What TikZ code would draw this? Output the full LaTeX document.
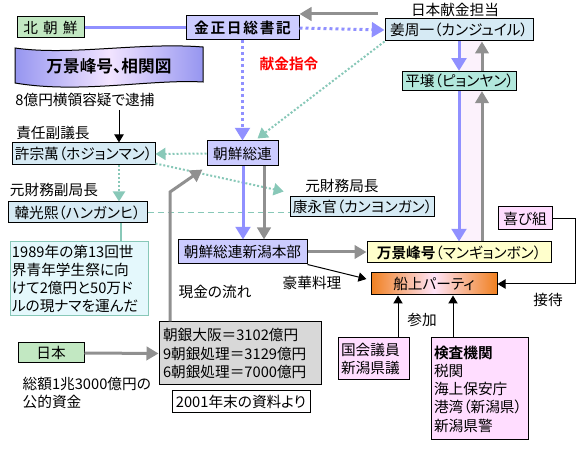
\documentclass[tikz,border=0pt]{standalone}
\usepackage{fontspec}
\setmainfont{Noto Sans CJK JP}[CharacterWidth=AlternateProportional, BoldFont={Noto Sans CJK JP Bold}]
\usetikzlibrary{arrows.meta,calc}

\definecolor{midori}{RGB}{194,232,194}
\definecolor{fuji}{RGB}{204,204,255}
\definecolor{mizuiro}{RGB}{214,234,244}
\definecolor{seiji}{RGB}{178,232,220}
\definecolor{kiiro}{RGB}{255,255,204}
\definecolor{momo}{RGB}{255,221,255}
\definecolor{nezumi}{RGB}{216,216,216}
\definecolor{sorairo}{RGB}{228,248,252}
\definecolor{aosen}{RGB}{144,144,255}
\definecolor{haisen}{RGB}{144,144,144}
\definecolor{aomidori}{RGB}{136,200,184}
\definecolor{daidai}{RGB}{240,128,32}
\definecolor{usudaidai}{RGB}{255,228,248}
\definecolor{usumomo}{RGB}{252,242,252}
\definecolor{hatairo}{RGB}{150,150,240}
\definecolor{hatanaka}{RGB}{242,228,255}

\begin{document}
\begin{tikzpicture}[x=0.75pt,y=-0.75pt,font=\fontsize{11}{13.7}\selectfont]
	% Stiler for bokser og piler
	\tikzstyle{boks}      = [rectangle, draw, line width=0.75pt, inner sep=2pt]
	\tikzstyle{person}    = [boks, fill=mizuiro]
	\tikzstyle{soshiki}   = [boks, fill=fuji]
	\tikzstyle{kuni}      = [boks, fill=midori]
	\tikzstyle{ao}        = [aosen, line width=2.25pt, -{Triangle[width=11pt,length=9.5pt]}]
	\tikzstyle{hai}       = [haisen, line width=2.25pt, -{Triangle[width=10pt,length=9pt]}]
	\tikzstyle{aoten}     = [aosen, line width=2.25pt, dash pattern=on 2.25pt off 2.25pt, -{Triangle[width=11pt,length=9.5pt]}]
	\tikzstyle{midoriten} = [aomidori, line width=1.5pt, dash pattern=on 1.5pt off 1.5pt, -{Triangle[width=9pt,length=7.5pt]}]
	\tikzstyle{kuro}      = [black, line width=0.75pt, -{Triangle[width=7pt,length=6pt]}]

	\useasboundingbox (0,0) rectangle (587,449);

	% Tittel-banner
	\shade[left color=hatairo, right color=hatairo, middle color=hatanaka, draw=black, line width=0.75pt]
		(15,48) .. controls (70,56) and (140,42) .. (203,47) -- (203,82)
		.. controls (150,79) and (80,94) .. (15,83) -- cycle;
	\node (tittel) at (109,66) {\fontsize{12.5}{15}\selectfont\bfseries 万景峰号、相関図};

	% Bokser i toppen
	\node[kuni, minimum width=50.25pt, minimum height=15.75pt] (kitachosen) at (50.5,27.5) {\addfontfeature{LetterSpace=35}北朝鮮};
	\node[soshiki, minimum width=84.75pt, minimum height=18pt] (kimjongil) at (242.5,28) {\bfseries\addfontfeature{LetterSpace=12}金正日総書記};
	\node[person, minimum width=111pt, minimum height=16.5pt] (kangjuil) at (459,30) {姜周一（カンジュイル）};
	\node[boks, fill=seiji, minimum width=84.75pt, minimum height=13.5pt] (pyongyang) at (459.5,81) {平壌（ピョンヤン）};

	% Personer til venstre
	\node[person, minimum width=107.25pt, minimum height=16.5pt] (hojongman) at (83.5,154) {許宗萬（ホジョンマン）};
	\node[person, minimum width=104.25pt, minimum height=15.75pt] (hanganghi) at (77.5,212.5) {韓光熙（ハンガンヒ）};
	\node[person, minimum width=104.25pt, minimum height=15pt] (kangyonggwan) at (362.5,207) {康永官（カンヨンガン）};
	\node[boks, draw=aomidori, fill=sorairo, text width=100.5pt, inner xsep=1.5pt, minimum height=55.5pt, align=left] (memo) at (79,279)
		{1989年の第13回世\\界青年学生祭に向\\けて2億円と50万ド\\ルの現ナマを運んだ};

	% Soren
	\node[soshiki, minimum width=53.25pt, minimum height=18.75pt] (soren) at (242.5,153.5) {朝鮮総連};
	\node[soshiki, minimum width=96.75pt, minimum height=18pt] (niigata) at (242.5,252) {朝鮮総連新潟本部};

	% Skipet og festen
	\node[boks, fill=kiiro, minimum width=138pt, minimum height=15.75pt] (mangyongbong) at (459,252.5) {\textbf{万景峰号}（マンギョンボン）};
	\node[boks, left color=daidai, right color=daidai, middle color=usudaidai, minimum width=94.5pt, minimum height=16.5pt] (senjo) at (434,284) {船上パーティ};
	\node[boks, fill=momo, minimum width=40.5pt, minimum height=17.25pt] (yorokobi) at (525,218.5) {喜び組};
	\node[boks, fill=momo, text width=48.75pt, inner xsep=2.25pt, minimum height=31.5pt, align=left] (giin) at (373.5,359) {国会議員\\新潟県議};
	\node[boks, fill=momo, text width=68.25pt, inner xsep=2.25pt, minimum height=76.5pt, align=left] (kensa) at (479.5,389)
		{\textbf{検査機関}\\税関\\海上保安庁\\港湾（新潟県）\\新潟県警};

	% Penger fra Japan
	\node[kuni, minimum width=49.5pt, minimum height=15pt] (nihon) at (51,353) {日本};
	\node[boks, fill=nezumi, text width=115.5pt, inner xsep=3pt, minimum height=47.25pt, align=left] (chogin) at (240,353.5)
		{朝銀大阪＝3102億円\\9朝銀処理＝3129億円\\6朝銀処理＝7000億円};
	\node[boks, fill=white!97!momo, minimum width=103.5pt, minimum height=16.5pt] (shiryo) at (241,402) {2001年末の資料より};

	% Tekster
	\node (kenkintanto) at (455,10) {日本献金担当};
	\node[text=red] (kenkinshirei) at (289,64) {\bfseries 献金指令};
	\node (taiho) at (85,100) {8億円横領容疑で逮捕};
	\node (fukugicho) at (53,133) {責任副議長};
	\node (motofukukyokucho) at (54,190) {元財務副局長};
	\node (motokyokucho) at (342,186) {元財務局長};
	\node (goka) at (312,283) {豪華料理};
	\node (genkin) at (215,292) {現金の流れ};
	\node (settai) at (548,300) {接待};
	\node (sanka) at (422,320) {参加};
	\node[align=left, anchor=west] (kotekishikin) at (18,393) {総額1兆3000億円の\\公的資金};

	% Hjelpepunkter
	\coordinate (bandao)    at (459,0);
	\coordinate (bandhai)   at (482,0);
	\coordinate (haisaki)   at (378,14);
	\coordinate (hx)        at (119,0);
	\coordinate (taihosaki) at (119,110);
	\coordinate (memox)     at (121,0);
	\coordinate (aox)       at (243,0);
	\coordinate (haix)      at (264,0);
	\coordinate (genkinore) at (170,192);
	\coordinate (giinx)     at (398,0);
	\coordinate (kensax)    at (453,0);

	% Rosa band mellom pilene
	\fill[usumomo] (kangjuil.south -| bandao) rectangle (pyongyang.north -| bandhai);
	\fill[usumomo] (pyongyang.south -| bandao) rectangle (mangyongbong.north -| bandhai);

	% Piler i toppen
	\draw[aosen, line width=2.25pt] (kitachosen.east) -- (kitachosen.east -| kimjongil.west);
	\draw[hai] (haisaki) -- (haisaki -| kimjongil.east);
	\draw[aoten] (kimjongil.east) -- (kangjuil.west);
	\draw[aoten] (kimjongil.south) -- (soren.north);
	\draw[midoriten] (kangjuil.south west) -- ($(soren.north)+(15,-2)$);
	\draw[ao] (kangjuil.south -| bandao) -- (pyongyang.north -| bandao);
	\draw[hai] (pyongyang.north -| bandhai) -- (kangjuil.south -| bandhai);
	\draw[ao] (pyongyang.south -| bandao) -- (mangyongbong.north -| bandao);
	\draw[hai] (mangyongbong.north -| bandhai) -- (pyongyang.south -| bandhai);

	% Personer
	\draw[kuro] (taihosaki) -- (hojongman.north -| hx);
	\draw[midoriten] (soren.west) -- (hojongman.east);
	\draw[midoriten] (hojongman.south -| hx) -- (hanganghi.north -| hx);
	\draw[midoriten] ($(hojongman.south east)+(0,-2)$) -- ($(kangyonggwan.north west)+(-6,-5)$);
	\draw[aomidori, line width=0.75pt, dash pattern=on 4.5pt off 3pt] (hanganghi.east) -- (hanganghi.east -| kangyonggwan.west);
	\draw[aomidori, line width=1.5pt] (hanganghi.south -| memox) -- (memo.north -| memox);

	% Soren og skipet
	\draw[ao] (soren.south -| aox) -- (niigata.north -| aox);
	\draw[hai] (soren.south -| haix) -- (niigata.north -| haix);
	\draw[hai] (niigata.east) -- (niigata.east -| mangyongbong.west);
	\draw[kuro] (niigata.south east) -- ($(senjo.west)+(-4,-5)$);
	\draw[kuro] (giin.north -| giinx) -- (senjo.south -| giinx);
	\draw[kuro] (kensa.north -| kensax) -- (senjo.south -| kensax);
	\draw[kuro] (yorokobi.east) -- ++(23,0) |- (senjo.east);

	% Pengestroem
	\draw[hai] (nihon.east) -- (chogin.west);
	\draw[hai] (chogin.north -| genkinore) -- (genkinore) -- ($(soren.south west)+(-4,3)$);
\end{tikzpicture}
\end{document}
